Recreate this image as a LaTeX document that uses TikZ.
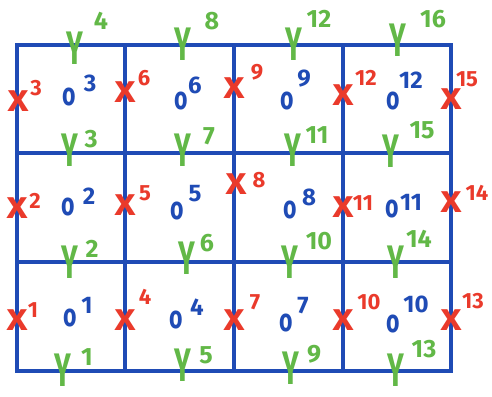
\documentclass[tikz,border=0pt]{standalone}
\usepackage{fontspec}
\setmainfont{Fira Sans}
\definecolor{gblue}{HTML}{1F4BB5}
\definecolor{mred}{HTML}{EA3A2B}
\definecolor{mgreen}{HTML}{62B847}
\tikzset{
  gridline/.style={draw=gblue, line width=3.2pt, line cap=rect},
  xm/.style={text=mred, inner sep=0pt, font=\bfseries\fontsize{30}{30}\selectfont},
  xn/.style={text=mred, inner sep=0pt, font=\bfseries\fontsize{22}{22}\selectfont},
  ym/.style={text=mgreen, inner sep=0pt, font=\bfseries\fontsize{47}{47}\selectfont},
  yn/.style={text=mgreen, inner sep=0pt, font=\bfseries\fontsize{25}{25}\selectfont},
  om/.style={text=gblue, inner sep=0pt, font=\bfseries\fontsize{32}{32}\selectfont},
  on/.style={text=gblue, inner sep=0pt, font=\bfseries\fontsize{24}{24}\selectfont},
}
\begin{document}
\begin{tikzpicture}[x=1pt,y=-1pt]
\useasboundingbox[fill=white] (0,0) rectangle (492,396);
% grid
\foreach \gx in {17,125,234,343,451} \draw[gridline] (\gx,45) -- (\gx,371);
\foreach \gy in {45,153,262,371} \draw[gridline] (17,\gy) -- (451,\gy);
% red X marks on vertical edges
\foreach \i/\px/\py/\lx/\ly in {
  1/17/320/33/310, 2/17/208/35/201, 3/18/101/36/88,
  4/125/320/145/297, 5/125/205/145/193, 6/125/92/144/78,
  7/234/320/255/302, 8/236/184/259/180, 9/234/88/257/72,
  10/343/320/369/302, 11/343/207/363/203, 12/343/95/366/78,
  13/451/320/473/301, 14/451/202/477/193, 15/451/99/467/79}
{
  \node[xm] (x\i) at (\px,\py) {\scalebox{1.2}[1]{X}};
  \node[xn] (xl\i) at (\lx,\ly) {\i};
}
% green Y marks on horizontal edges
\foreach \i/\px/\py/\lx/\ly in {
  1/63/370/87/357, 2/70/262/92/249, 3/70/150/91/139, 4/75/48/101/21,
  5/183/365/206/355, 6/187/258/207/243, 7/183/150/209/136, 8/183/44/212/21,
  9/291/368/314/354, 10/290/262/319/241, 11/293/150/317/135, 12/294/44/319/19,
  13/396/370/424/349, 14/396/262/419/239, 15/391/151/422/130, 16/398/40/433/19}
{
  \node[ym] (y\i) at (\px,\py) {\scalebox{0.6}[1]{Y}};
  \node[yn] (yl\i) at (\lx,\ly) {\i};
}
% blue o marks in cells
\foreach \i/\px/\py/\lx/\ly in {
  1/70/318/87/305, 2/68/207/89/196, 3/69/97/90/83,
  4/176/320/197/307, 5/177/211/195/194, 6/181/101/195/85,
  7/286/323/303/306, 8/290/210/309/197, 9/287/101/304/79,
  10/393/324/416/304, 11/392/209/411/202, 12/393/101/411/80}
{
  \node[om] (o\i) at (\px,\py) {\scalebox{0.72}[1]{o}};
  \node[on] (ol\i) at (\lx,\ly) {\i};
}
\end{tikzpicture}
\end{document}
